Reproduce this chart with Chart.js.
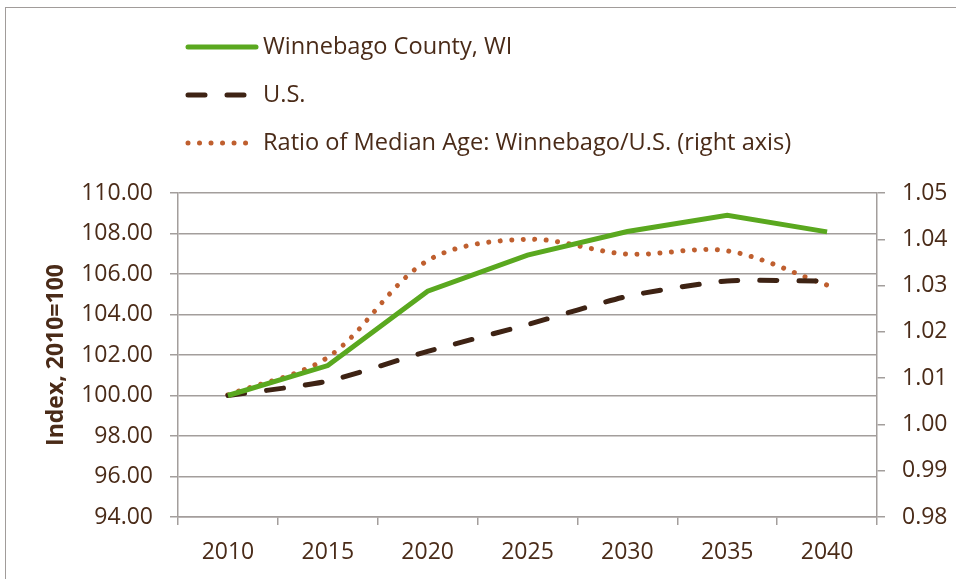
<!DOCTYPE html>
<html>
<head>
<meta charset="utf-8">
<script src="https://cdn.jsdelivr.net/npm/chart.js@4"></script>
<style>
  html, body { margin: 0; padding: 0; background: #fff; overflow: hidden; }
  body { width: 956px; height: 579px; position: relative; font-family: "Open Sans", sans-serif; color: #4a2b18; }
  #frame { position: absolute; left: 5px; top: 7px; width: 1100px; height: 800px; border: 1.5px solid #a19c9a; }
  #wrap { position: absolute; left: 0; top: 0; width: 956px; height: 579px; }
  #legend { position: absolute; left: 185px; top: 30px; font-size: 23.6px; }
  .row { position: absolute; left: 0; height: 34px; white-space: nowrap; }
  .row svg { position: absolute; left: 0; top: 0; }
  .row span { position: absolute; left: 78px; top: 0px; line-height: 30px; }
</style>
</head>
<body>
<div id="frame"></div>
<div id="wrap"><canvas id="myCanvas" width="956" height="579"></canvas></div>
<div id="legend"></div>
<script>
 // values
 var years = ['2010', '2015', '2020', '2025', '2030', '2035', '2040'];
 var winnebago = [100, 101.48, 105.15, 106.93, 108.1, 108.9, 108.08];
 var us = [100, 100.71, 102.18, 103.5, 104.9, 105.66, 105.65];
 var ratio = [1.0064, 1.0145, 1.0354, 1.0400, 1.0368, 1.0375, 1.0301];
 var names = ['Winnebago County, WI', 'U.S.', 'Ratio of Median Age: Winnebago/U.S. (right axis)'];
 var leftTitle = 'Index, 2010=100';

 var green = '#5aa81f';
 var brown = '#3e2314';
 var orange = '#bf5f2f';
 var textCol = '#4a2b18';
 var gridCol = '#a39e9c';

 function makeLegend(){
    var div = document.querySelector('#legend');
    var styles = [
      {c: green, dash: '', cap: 'round'},
      {c: brown, dash: '17 22', cap: 'round'},
      {c: orange, dash: '0.01 11.5', cap: 'round'}
    ];
    names.forEach((n, i) => {
      var row = document.createElement('div');
      row.className = 'row';
      row.style.top = (i * 48) + 'px';
      var s = styles[i];
      row.innerHTML = '<svg width="80" height="34"><line x1="3" y1="17" x2="71" y2="17" stroke="' + s.c +
        '" stroke-width="5" stroke-linecap="' + s.cap + '"' + (s.dash ? ' stroke-dasharray="' + s.dash + '"' : '') + '/></svg>';
      var sp = document.createElement('span');
      sp.textContent = n;
      row.appendChild(sp);
      div.appendChild(row);
    });
 }
 makeLegend();

 function makeChart(){
    var font = {family: 'Open Sans', size: 23};
    const data = {
      labels: years,
      datasets: [{
        label: names[0],
        data: winnebago,
        borderColor: green,
        borderWidth: 5,
        tension: 0,
        yAxisID: 'y'
      }, {
        label: names[1],
        data: us,
        borderColor: brown,
        borderWidth: 5,
        borderDash: [17, 22],
        borderCapStyle: 'round',
        tension: 0.2,
        yAxisID: 'y'
      }, {
        label: names[2],
        data: ratio,
        borderColor: orange,
        borderWidth: 5,
        borderDash: [0.01, 11.5],
        borderCapStyle: 'round',
        tension: 0.33,
        yAxisID: 'y2'
      }]
    };
    const config = {
      type: 'line',
      data: data,
      options: {
        responsive: false,
        animation: false,
        layout: {padding: {top: 193, left: 0, right: 0, bottom: 0}},
        elements: {point: {radius: 0}},
        plugins: {legend: {display: false}, tooltip: {enabled: false}},
        scales: {
          x: {
            offset: true,
            grid: {offset: true, drawOnChartArea: false, drawTicks: true, tickLength: 8, color: gridCol, lineWidth: 1.5},
            border: {display: true, color: gridCol, width: 1.5},
            ticks: {color: textCol, font: font, padding: 14, maxRotation: 0},
            afterFit: s => { s.height = 62; }
          },
          y: {
            position: 'left',
            min: 94, max: 110,
            grid: {color: gridCol, lineWidth: 1.5, tickLength: 8},
            border: {display: true, color: gridCol, width: 1.5},
            ticks: {stepSize: 2, color: textCol, font: font, padding: 17, callback: v => v.toFixed(2)},
            title: {display: true, text: leftTitle, color: textCol, font: {family: 'Open Sans', size: 23, weight: 'bold'}, padding: {top: 43, bottom: 0}},
            afterFit: s => { s.width = 178; }
          },
          y2: {
            position: 'right',
            min: 0.98, max: 1.05,
            grid: {drawOnChartArea: false, color: gridCol, lineWidth: 1.5, tickLength: 8},
            border: {display: true, color: gridCol, width: 1.5},
            ticks: {stepSize: 0.01, color: textCol, font: font, padding: 17, callback: v => v.toFixed(2)},
            afterFit: s => { s.width = 79; }
          }
        }
      }
    };
    var myChart = new Chart(document.getElementById('myCanvas'), config);
 }
 makeChart();
</script>
</body>
</html>
